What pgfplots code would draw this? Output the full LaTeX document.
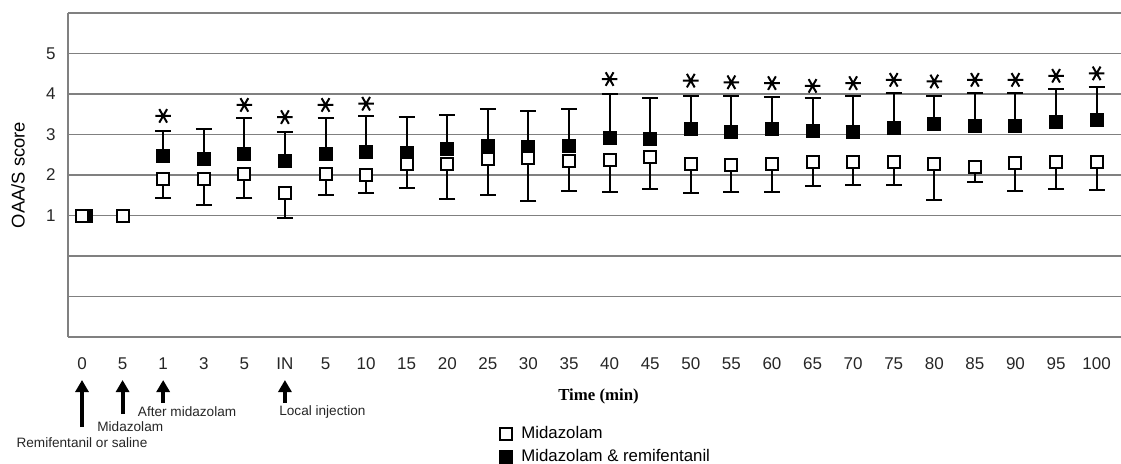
\documentclass[border=0pt]{standalone}
\usepackage{fontspec}
\setmainfont{Liberation Sans}
\newfontfamily\seriffont{Liberation Serif}
\usepackage{pgfplots}
\pgfplotsset{compat=1.18}
\usepackage{pgfplotstable}
\usetikzlibrary{arrows.meta}

% Midazolam & remifentanil (filled): mean and upper error
\pgfplotstableread{
x y ep
2 2.48 0.61
3 2.40 0.74
4 2.52 0.89
5 2.35 0.72
6 2.52 0.89
7 2.58 0.87
8 2.54 0.88
9 2.63 0.86
10 2.71 0.92
11 2.68 0.89
12 2.71 0.93
13 2.91 1.09
14 2.90 1.00
15 3.14 0.82
16 3.05 0.91
17 3.13 0.79
18 3.08 0.81
19 3.05 0.89
20 3.16 0.86
21 3.26 0.70
22 3.20 0.82
23 3.22 0.80
24 3.30 0.82
25 3.35 0.82
}\mrdata

% Midazolam (open): mean and lower error
\pgfplotstableread{
x y em
2 1.91 0.47
3 1.91 0.66
4 2.03 0.59
5 1.56 0.62
6 2.03 0.53
7 2.01 0.45
8 2.27 0.60
9 2.26 0.85
10 2.40 0.90
11 2.42 1.07
12 2.34 0.74
13 2.36 0.77
14 2.44 0.78
15 2.26 0.70
16 2.24 0.67
17 2.28 0.71
18 2.31 0.57
19 2.32 0.56
20 2.32 0.56
21 2.28 0.89
22 2.21 0.39
23 2.30 0.70
24 2.32 0.66
25 2.31 0.69
}\mdata

% significance stars
\pgfplotstableread{
x y
2 3.46
4 3.73
5 3.43
6 3.73
7 3.76
13 4.37
15 4.33
16 4.29
17 4.27
18 4.20
19 4.27
20 4.35
21 4.31
22 4.35
23 4.35
24 4.45
25 4.51
}\stardata

\begin{document}
\begin{tikzpicture}
\begin{axis}[
  at={(0,0)}, anchor=south west,
  scale only axis, width=526.5pt, height=162pt,
  xmin=-0.345, xmax=25.6, ymin=-2, ymax=6,
  axis x line*=bottom, axis y line*=left,
  axis line style={draw=black!50, line width=0.7pt},
  xtick={0,...,25},
  xticklabels={0,5,1,3,5,IN,5,10,15,20,25,30,35,40,45,50,55,60,65,70,75,80,85,90,95,100},
  ytick={-2,-1,0,1,2,3,4,5,6},
  yticklabels={,,,1,2,3,4,5,},
  major tick length=0pt,
  ymajorgrids, major grid style={draw=black!50, line width=0.7pt},
  tick label style={font=\fontsize{8.5}{10}\selectfont, text=black!85},
  xticklabel style={yshift=-6.7pt},
  yticklabel style={xshift=-2.7pt},
  clip=false,
  legend style={draw=none, fill=none, inner sep=0pt,
    at={(axis description cs:0,0)}, anchor=north west,
    xshift=216pt, yshift=-43.5pt,
    font=\fontsize{8.4}{10}\selectfont, row sep=2pt, column sep=3.5pt,
    nodes={inner sep=1pt}},
  legend cell align=left,
  legend image code/.code={\draw[#1] plot coordinates {(3.25pt,0pt)};},
]
\addlegendimage{only marks, mark=square*, mark size=3pt, mark options={draw=black, fill=white, line width=1pt}}
\addlegendimage{only marks, mark=square*, mark size=3pt, mark options={draw=black, fill=black, line width=1pt}}

% filled series
\addplot[forget plot, only marks, mark=square*, mark size=3pt,
  mark options={draw=black, fill=black, line width=1pt}]
  coordinates {(0.1,1) (1,1)};
\addplot[forget plot, only marks, mark=square*, mark size=3pt,
  mark options={draw=black, fill=black, line width=1pt},
  error bars/.cd, y dir=plus, y explicit,
  error bar style={line width=1pt, black},
  error mark options={rotate=90, mark size=4pt, line width=1pt, black}]
  table[x=x, y=y, y error plus=ep] {\mrdata};

% open series
\addplot[forget plot, only marks, mark=square*, mark size=3pt,
  mark options={draw=black, fill=white, line width=1pt}]
  coordinates {(0,1) (1,1)};
\addplot[forget plot, only marks, mark=square*, mark size=3pt,
  mark options={draw=black, fill=white, line width=1pt},
  error bars/.cd, y dir=minus, y explicit,
  error bar style={line width=1pt, black},
  error mark options={rotate=90, mark size=4pt, line width=1pt, black}]
  table[x=x, y=y, y error minus=em] {\mdata};

% stars
\addplot[forget plot, only marks, mark=asterisk, mark size=3.9pt,
  mark options={rotate=90, line width=1pt, black}]
  table[x=x, y=y] {\stardata};

\legend{Midazolam, Midazolam \& remifentanil}

% y label
\node[rotate=90, font=\fontsize{9.2}{11}\selectfont] at ([xshift=-25pt]axis description cs:0,0.5) {OAA/S score};
% x label
\node[font=\seriffont\bfseries\fontsize{8.4}{10}\selectfont] at ([xshift=2pt, yshift=-29.5pt]axis description cs:0.5,0) {Time (min)};

% event arrows
\draw[line width=2pt, -{Triangle[width=6.5pt,length=6pt]}] ([yshift=-45pt]axis cs:0,-2) -- ([yshift=-21.5pt]axis cs:0,-2);
\draw[line width=2pt, -{Triangle[width=6.5pt,length=6pt]}] ([yshift=-38.5pt]axis cs:1,-2) -- ([yshift=-21.5pt]axis cs:1,-2);
\draw[line width=2pt, -{Triangle[width=6.5pt,length=6pt]}] ([yshift=-33pt]axis cs:2,-2) -- ([yshift=-21.5pt]axis cs:2,-2);
\draw[line width=2pt, -{Triangle[width=6.5pt,length=6pt]}] ([yshift=-33pt]axis cs:5,-2) -- ([yshift=-21.5pt]axis cs:5,-2);

\node[font=\fontsize{6.8}{8}\selectfont, text=black!85] at ([yshift=-53pt]axis cs:0,-2) {Remifentanil or saline};
\node[font=\fontsize{6.8}{8}\selectfont, text=black!85, anchor=west, inner sep=0pt] at ([xshift=7.5pt, yshift=-45pt]axis cs:0,-2) {Midazolam};
\node[font=\fontsize{6.8}{8}\selectfont, text=black!85, anchor=west, inner sep=0pt] at ([xshift=7.5pt, yshift=-37.5pt]axis cs:1,-2) {After midazolam};
\node[font=\fontsize{6.8}{8}\selectfont, text=black!85, anchor=west, inner sep=0pt] at ([xshift=-3pt, yshift=-37.5pt]axis cs:5,-2) {Local injection};
\end{axis}
\pgfresetboundingbox
\path[use as bounding box] (-34pt,-63pt) rectangle (526.5pt,168.5pt);
\end{tikzpicture}
\end{document}
